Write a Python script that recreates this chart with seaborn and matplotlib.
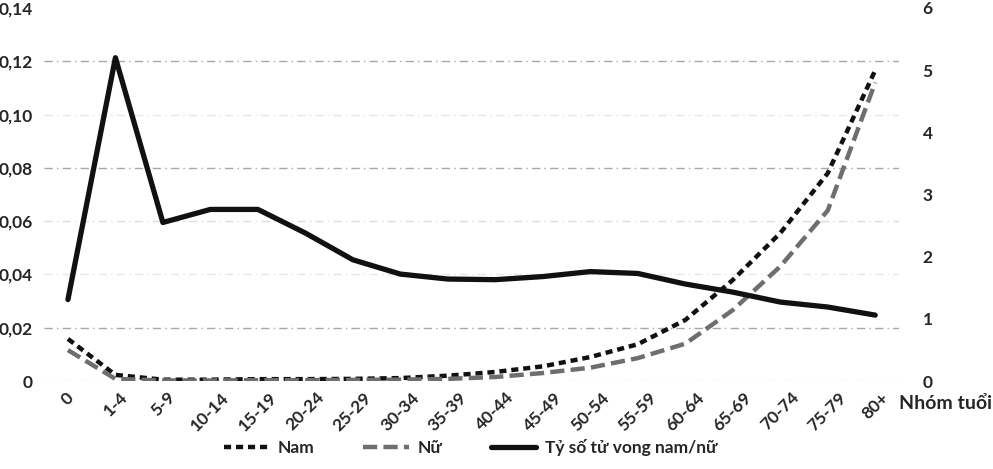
import numpy as np
import pandas as pd
import seaborn as sns
import matplotlib as mpl
import matplotlib.pyplot as plt
from matplotlib.ticker import FuncFormatter

# === DATA ===
age_groups = ['0', '1-4', '5-9', '10-14', '15-19', '20-24', '25-29', '30-34',
              '35-39', '40-44', '45-49', '50-54', '55-59', '60-64', '65-69',
              '70-74', '75-79', '80+']
nam = [0.0158, 0.0023, 0.0005, 0.0005, 0.0007, 0.0007, 0.0008, 0.0011,
       0.0020, 0.0034, 0.0055, 0.0090, 0.0138, 0.0229, 0.0379, 0.0555,
       0.0780, 0.1166]
nu = [0.0116, 0.0008, 0.0002, 0.0002, 0.0003, 0.0003, 0.0004, 0.0005,
      0.0008, 0.0015, 0.0030, 0.0050, 0.0086, 0.0140, 0.0266, 0.0430,
      0.0640, 0.1120]
ratio = [1.31, 5.20, 2.55, 2.76, 2.76, 2.38, 1.95, 1.72, 1.64, 1.63,
         1.68, 1.76, 1.73, 1.56, 1.43, 1.27, 1.19, 1.06]
left_ticks = [0, 0.02, 0.04, 0.06, 0.08, 0.10, 0.12, 0.14]
right_ticks = [0, 1, 2, 3, 4, 5, 6]

df = pd.DataFrame({'age': age_groups, 'Nam': nam, 'Nữ': nu,
                   'ratio': ratio})

# === PLOT SETTINGS ===
sns.set_style('white')
plt.rcParams['font.family'] = ['Lato', 'DejaVu Sans']
plt.rcParams['font.weight'] = 'bold'

fig = plt.figure(figsize=(9.93, 4.69), dpi=100)
ax = fig.add_axes([0.0445, 0.1876, 0.8608, 0.7954])
ax2 = ax.twinx()

# === LINES ===
sns.lineplot(data=df, x='age', y='Nam', ax=ax, sort=False, color='#111111',
             lw=3.2, dashes=False, label='Nam')
sns.lineplot(data=df, x='age', y='Nữ', ax=ax, sort=False, color='#6e6e6e',
             lw=3.2, dashes=False, label='Nữ')
ax.lines[0].set_dashes((1.6, 1.1))
ax.lines[1].set_dashes((3.2, 1.4))
sns.lineplot(data=df, x='age', y='ratio', ax=ax2, sort=False,
             color='#111111', lw=3.8, label='Tỷ số tử vong nam/nữ')

# === AXES ===
ax.set_xlim(-0.5, len(age_groups) - 0.5)
ax.set_ylim(0, 0.14)
ax2.set_ylim(0, 6)
ax.set_yticks(left_ticks)
ax2.set_yticks(right_ticks)
ax.yaxis.set_major_formatter(FuncFormatter(
    lambda v, p: '0' if v == 0 else f'{v:.2f}'.replace('.', ',')))
ax.set_xlabel('')
ax.set_ylabel('')
ax2.set_ylabel('')
for a in (ax, ax2):
    for s in a.spines.values():
        s.set_visible(False)
ax.tick_params(axis='both', length=0, labelsize=12.5)
ax.tick_params(axis='y', pad=8)
ax2.tick_params(axis='y', length=0, labelsize=12.5, pad=17)
ax.tick_params(axis='x', pad=6)
plt.setp(ax.get_xticklabels(), rotation=45, ha='center', va='top')

# grid (scanned look: some lines darker than others)
ax.grid(axis='y', linestyle=(0, (6, 3, 1, 3)), lw=1.0)
ax.grid(axis='x', visible=False)
ax2.grid(False)
grid_cols = ['#e6e6e6', '#a8a8a8', '#e6e6e6', '#dddddd', '#a8a8a8',
             '#e6e6e6', '#a8a8a8', '#ffffff']
for gl, c in zip(ax.yaxis.get_gridlines(), grid_cols):
    gl.set_color(c)

ax.text(1.0, -0.06, 'Nhóm tuổi', transform=ax.transAxes, ha='left',
        va='center', fontsize=14, fontweight='bold')

# === LEGEND ===
handles = ax.get_legend_handles_labels()[0] + ax2.get_legend_handles_labels()[0]
labels = ax.get_legend_handles_labels()[1] + ax2.get_legend_handles_labels()[1]
ax.get_legend().remove()
ax2.get_legend().remove()
fig.legend(handles, labels, loc='center', bbox_to_anchor=(0.474, 0.045),
           ncol=3, frameon=False, fontsize=12.5, handlelength=2.6,
           columnspacing=2.8, handletextpad=0.5)

fig.savefig('out.png', dpi=100)
